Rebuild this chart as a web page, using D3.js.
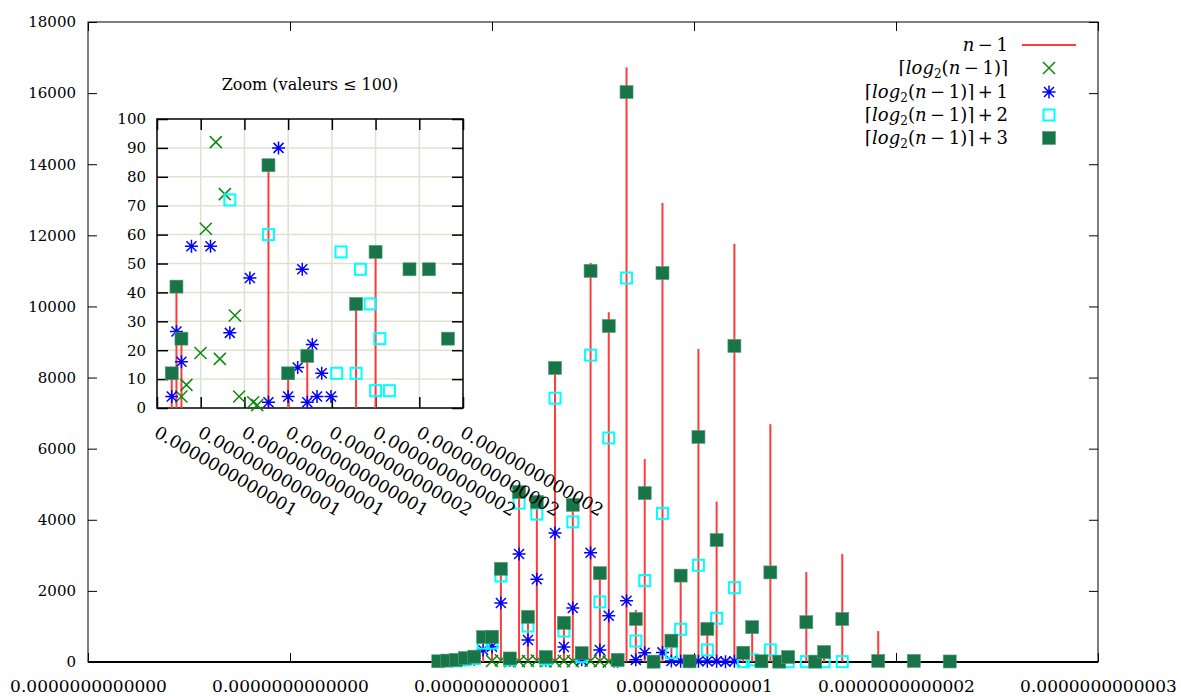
<!DOCTYPE html>
<html>
<head>
<meta charset="utf-8">
<script src="https://cdn.jsdelivr.net/npm/d3@7"></script>
<style>
  body { margin: 0; background: #fff; }
  svg { display: block; font-family: "DejaVu Serif", serif; }
</style>
</head>
<body>
<svg id="chart" width="1181" height="696"></svg>
<script>
// ---- main chart data (x in units of 1e-13) ----
const mainX = [0.867, 0.889, 0.911, 0.933, 0.956, 0.978, 1.000, 1.022, 1.044, 1.067,
               1.089, 1.111, 1.133, 1.156, 1.178, 1.200, 1.222, 1.244, 1.267, 1.289,
               1.311, 1.333, 1.356, 1.378, 1.400, 1.422, 1.444, 1.467, 1.489, 1.511,
               1.533, 1.556, 1.578, 1.600, 1.622, 1.644, 1.667, 1.689, 1.711, 1.733,
               1.778, 1.800, 1.822, 1.867, 1.956, 2.044, 2.133];
const nMinus1 = [null, null, null, null, null, 430, 530, 2640, 120, 4920,
                 1380, 4610, 160, 8440, 1270, 4470, 280, 11220, 2670, 9840,
                 70, 16730, 1460, 5710, 20, 12910, 600, 2480, 30, 8800,
                 950, 4510, null, 11760, 430, 990, 30, 6690, 20, 160,
                 2530, 30, 300, 3040, 870, null, 60];
const log2Ceil = [null, null, null, null, null, null, 30, 50, 20, 20,
                  30, 40, 20, 20, 30, 20, 40, 30, 20, 10,
                  null, null, null, null, null, null, null, null, null, null,
                  null, null, null, null, null, null, null, null, null, null,
                  null, null, null, null, null, null, null];
const log2Plus1 = [null, null, null, 60, 80, 340, 430, 1660, 40, 3040,
                   620, 2330, 50, 3630, 420, 1520, 60, 3070, 340, 1300,
                   20, 1720, 60, 260, 10, 270, 30, 20, 10, 20,
                   20, 20, 10, 20, null, null, null, null, null, null,
                   null, null, null, null, null, null, null];
const log2Plus2 = [null, null, 30, 60, 100, 530, 530, 2420, 60, 4470,
                   1010, 4160, 80, 7420, 870, 3940, 150, 8630, 1690, 6300,
                   40, 10800, 590, 2290, 10, 4180, 260, 920, 10, 2720,
                   340, 1230, null, 2090, 10, 60, 10, 340, 10, 10,
                   10, 10, 10, 10, null, null, null];
const log2Plus3 = [20, 40, 60, 110, 150, 700, 710, 2620, 100, 4780,
                   1270, 4500, 140, 8270, 1100, 4420, 250, 11000, 2500, 9450,
                   60, 16030, 1210, 4750, 10, 10940, 600, 2430, 20, 6330,
                   930, 3430, null, 8890, 260, 980, 20, 2520, 10, 140,
                   1120, 10, 280, 1210, 30, 30, 15];

const mainXTicks = [0, 0.5, 1, 1.5, 2, 2.5];
const mainXLabels = ["0.0000000000000", "0.0000000000000", "0.0000000000001",
                     "0.0000000000001", "0.0000000000002", "0.0000000000003"];
const mainYTicks = [0, 2000, 4000, 6000, 8000, 10000, 12000, 14000, 16000, 18000];

// ---- inset data (values <= 100), x in inset tick units ----
const insetRed = [[0.337, 12], [0.445, 42], [0.559, 24], [2.55, 84], [3.0, 12],
                  [3.438, 18], [4.554, 36], [5.0, 54]];
const insetLog2 = [[1.345, 92], [1.552, 74], [1.116, 62], [1.781, 32], [0.995, 19],
                   [1.437, 17], [0.674, 8], [0.559, 4], [1.879, 4], [2.2, 2], [2.292, 1]];
const insetPlus1 = [[2.78, 90], [0.788, 56], [1.224, 56], [2.125, 45], [3.323, 48],
                    [0.445, 26.5], [1.666, 26], [0.559, 16], [3.553, 22], [3.218, 14],
                    [3.768, 12], [0.337, 4], [2.55, 2], [3.0, 4], [3.438, 2],
                    [3.66, 4], [3.98, 4]];
const insetPlus2 = [[1.666, 72], [2.55, 60], [4.21, 54], [4.653, 48], [4.875, 36],
                    [5.097, 24], [4.11, 12], [4.554, 12], [5.0, 6], [5.317, 6]];
const insetPlus3 = [[2.55, 84], [0.445, 42], [0.559, 24], [0.337, 12], [3.0, 12],
                    [3.438, 18], [4.554, 36], [5.0, 54], [5.776, 48], [6.22, 48], [6.656, 24]];

const insetXTicks = [0, 1, 2, 3, 4, 5, 6, 7];
const insetXLabels = ["0.0000000000001", "0.0000000000001", "0.0000000000001", "0.0000000000001",
                      "0.0000000000002", "0.0000000000002", "0.0000000000002", "0.0000000000002"];
const insetYTicks = [0, 10, 20, 30, 40, 50, 60, 70, 80, 90, 100];

// colours
const cRed = "#ff3b3b", cGreen = "#0c8a0c", cBlue = "#0000ff", cCyan = "#00ffff", cDark = "#177548";

const svg = d3.select("#chart");

// marker shapes
const xPath = s => `M${-s},${-s}L${s},${s}M${-s},${s}L${s},${-s}`;
const starPath = s => xPath(s) + `M${-s * 1.3},0L${s * 1.3},0M0,${-s * 1.3}L0,${s * 1.3}`;

function drawMarkers(g, pts, kind) {
  const sel = g.selectAll(null).data(pts).enter();
  if (kind === "x") {
    sel.append("path").attr("d", xPath(6))
       .attr("transform", d => `translate(${d[0]},${d[1]})`)
       .attr("stroke", cGreen).attr("stroke-width", 1.5).attr("fill", "none");
  } else if (kind === "star") {
    sel.append("path").attr("d", starPath(5))
       .attr("transform", d => `translate(${d[0]},${d[1]})`)
       .attr("stroke", cBlue).attr("stroke-width", 1.5).attr("fill", "none");
  } else if (kind === "open") {
    sel.append("rect").attr("x", d => d[0] - 5.5).attr("y", d => d[1] - 5.5)
       .attr("width", 11).attr("height", 11)
       .attr("stroke", cCyan).attr("stroke-width", 2).attr("fill", "none");
  } else {
    sel.append("rect").attr("x", d => d[0] - 6.5).attr("y", d => d[1] - 6.5)
       .attr("width", 13).attr("height", 13)
       .attr("fill", cDark).attr("stroke", "#5a9a78").attr("stroke-width", 0.6);
  }
}

// ================= main chart =================
const x = d3.scaleLinear().domain([0, 2.5]).range([88, 1098]);
const y = d3.scaleLinear().domain([0, 18000]).range([662, 22]);

const main = svg.append("g");

main.append("rect").attr("x", 88).attr("y", 22).attr("width", 1010).attr("height", 640)
    .attr("fill", "none").attr("stroke", "#000").attr("stroke-width", 1);

const axB = main.append("g").attr("transform", "translate(0,662)")
  .call(d3.axisBottom(x).tickValues(mainXTicks).tickFormat((d, i) => mainXLabels[i])
        .tickSizeInner(-9).tickSizeOuter(0).tickPadding(18));
const axT = main.append("g").attr("transform", "translate(0,22)")
  .call(d3.axisTop(x).tickValues(mainXTicks).tickFormat("").tickSizeInner(-9).tickSizeOuter(0));
const axL = main.append("g").attr("transform", "translate(88,0)")
  .call(d3.axisLeft(y).tickValues(mainYTicks).tickFormat(d3.format("d"))
        .tickSizeInner(-9).tickSizeOuter(0).tickPadding(12));
const axR = main.append("g").attr("transform", "translate(1098,0)")
  .call(d3.axisRight(y).tickValues(mainYTicks).tickFormat("").tickSizeInner(-9).tickSizeOuter(0));

[axB, axT, axL, axR].forEach(a => {
  a.select(".domain").remove();
  a.selectAll("line").attr("stroke", "#000");
  a.selectAll("text").attr("fill", "#000").attr("font-family", "DejaVu Serif");
});
axB.selectAll("text").attr("font-size", 17);
axL.selectAll("text").attr("font-size", 15);

// thick zero line
main.append("line").attr("x1", 88).attr("x2", 1098).attr("y1", y(0)).attr("y2", y(0))
    .attr("stroke", "#000").attr("stroke-width", 2.2);

// impulses
const redIdx = mainX.map((v, i) => i).filter(i => nMinus1[i] !== null);
main.append("g").selectAll("line").data(redIdx).enter().append("line")
    .attr("x1", i => x(mainX[i])).attr("x2", i => x(mainX[i]))
    .attr("y1", y(0)).attr("y2", i => y(nMinus1[i]))
    .attr("stroke", cRed).attr("stroke-width", 2);

function pts(vals) {
  return mainX.map((v, i) => [v, vals[i]]).filter(p => p[1] !== null)
              .map(p => [x(p[0]), y(p[1])]);
}
drawMarkers(main.append("g"), pts(log2Ceil), "x");
drawMarkers(main.append("g"), pts(log2Plus1), "star");
drawMarkers(main.append("g"), pts(log2Plus2), "open");
drawMarkers(main.append("g"), pts(log2Plus3), "filled");

// legend
const legend = main.append("g").attr("font-size", 18);
const legendRows = [45, 68, 92, 115, 138];
const thin = "\u2009";
function logLabel(t, suffix) {
  t.append("tspan").text("\u2308");
  t.append("tspan").attr("font-style", "italic").text("log");
  t.append("tspan").attr("font-size", 12).attr("dy", 4).text("2");
  t.append("tspan").attr("dy", -4).text("(");
  t.append("tspan").attr("font-style", "italic").text("n");
  t.append("tspan").text(thin + "\u2212" + thin + "1)\u2309" + suffix);
}
const t0 = legend.append("text").attr("x", 1008).attr("y", legendRows[0]).attr("dy", "0.35em")
  .attr("text-anchor", "end");
t0.append("tspan").attr("font-style", "italic").text("n");
t0.append("tspan").text(thin + "\u2212" + thin + "1");
const suffixes = ["", thin + "+" + thin + "1", thin + "+" + thin + "2", thin + "+" + thin + "3"];
suffixes.forEach((s, i) => {
  const t = legend.append("text").attr("x", 1008).attr("y", legendRows[i + 1]).attr("dy", "0.35em")
    .attr("text-anchor", "end");
  logLabel(t, s);
});
legend.append("line").attr("x1", 1022).attr("x2", 1076).attr("y1", legendRows[0]).attr("y2", legendRows[0])
  .attr("stroke", cRed).attr("stroke-width", 2);
drawMarkers(legend.append("g"), [[1049, legendRows[1]]], "x");
drawMarkers(legend.append("g"), [[1049, legendRows[2]]], "star");
drawMarkers(legend.append("g"), [[1049, legendRows[3]]], "open");
drawMarkers(legend.append("g"), [[1049, legendRows[4]]], "filled");

// ================= inset =================
const ix = d3.scaleLinear().domain([0, 7]).range([157, 463]);
const iy = d3.scaleLinear().domain([0, 100]).range([408, 119]);
const inset = svg.append("g");

inset.append("text").attr("x", 310).attr("y", 90).attr("text-anchor", "middle")
  .attr("font-size", 16).text("Zoom (valeurs \u2264 100)");

// grid
inset.append("g").selectAll("line").data(insetXTicks.slice(1, -1)).enter().append("line")
  .attr("x1", d => ix(d)).attr("x2", d => ix(d)).attr("y1", iy(0)).attr("y2", iy(100))
  .attr("stroke", "#dce3cf").attr("stroke-width", 1.5);
inset.append("g").selectAll("line").data(insetYTicks.slice(1, -1)).enter().append("line")
  .attr("x1", ix(0)).attr("x2", ix(7)).attr("y1", d => iy(d)).attr("y2", d => iy(d))
  .attr("stroke", "#dce3cf").attr("stroke-width", 1.5);

const iaxL = inset.append("g").attr("transform", "translate(157,0)")
  .call(d3.axisLeft(iy).tickValues(insetYTicks).tickSizeInner(-11).tickSizeOuter(0).tickPadding(11));
const iaxR = inset.append("g").attr("transform", "translate(463,0)")
  .call(d3.axisRight(iy).tickValues(insetYTicks).tickFormat("").tickSizeInner(-11).tickSizeOuter(0));
const iaxB = inset.append("g").attr("transform", "translate(0,408)")
  .call(d3.axisBottom(ix).tickValues(insetXTicks).tickFormat("").tickSizeInner(-11).tickSizeOuter(0));
const iaxT = inset.append("g").attr("transform", "translate(0,119)")
  .call(d3.axisTop(ix).tickValues(insetXTicks).tickFormat("").tickSizeInner(-11).tickSizeOuter(0));
[iaxL, iaxR, iaxB, iaxT].forEach(a => {
  a.select(".domain").remove();
  a.selectAll("line").attr("stroke", "#000").attr("stroke-width", 1.5);
  a.selectAll("text").attr("fill", "#000").attr("font-family", "DejaVu Serif").attr("font-size", 15);
});

inset.append("rect").attr("x", 157).attr("y", 119).attr("width", 306).attr("height", 289)
  .attr("fill", "none").attr("stroke", "#000").attr("stroke-width", 1.5);

// rotated x labels
inset.append("g").selectAll("text").data(insetXTicks).enter().append("text")
  .attr("transform", d => `translate(${ix(d) - 4},436) rotate(30)`)
  .attr("font-size", 17.5).text((d, i) => insetXLabels[i]);

// inset series
inset.append("g").selectAll("line").data(insetRed).enter().append("line")
  .attr("x1", d => ix(d[0])).attr("x2", d => ix(d[0]))
  .attr("y1", iy(0)).attr("y2", d => iy(d[1]))
  .attr("stroke", cRed).attr("stroke-width", 2);
const ipts = arr => arr.map(d => [ix(d[0]), iy(d[1])]);
drawMarkers(inset.append("g"), ipts(insetLog2), "x");
drawMarkers(inset.append("g"), ipts(insetPlus1), "star");
drawMarkers(inset.append("g"), ipts(insetPlus2), "open");
drawMarkers(inset.append("g"), ipts(insetPlus3), "filled");
</script>
</body>
</html>
